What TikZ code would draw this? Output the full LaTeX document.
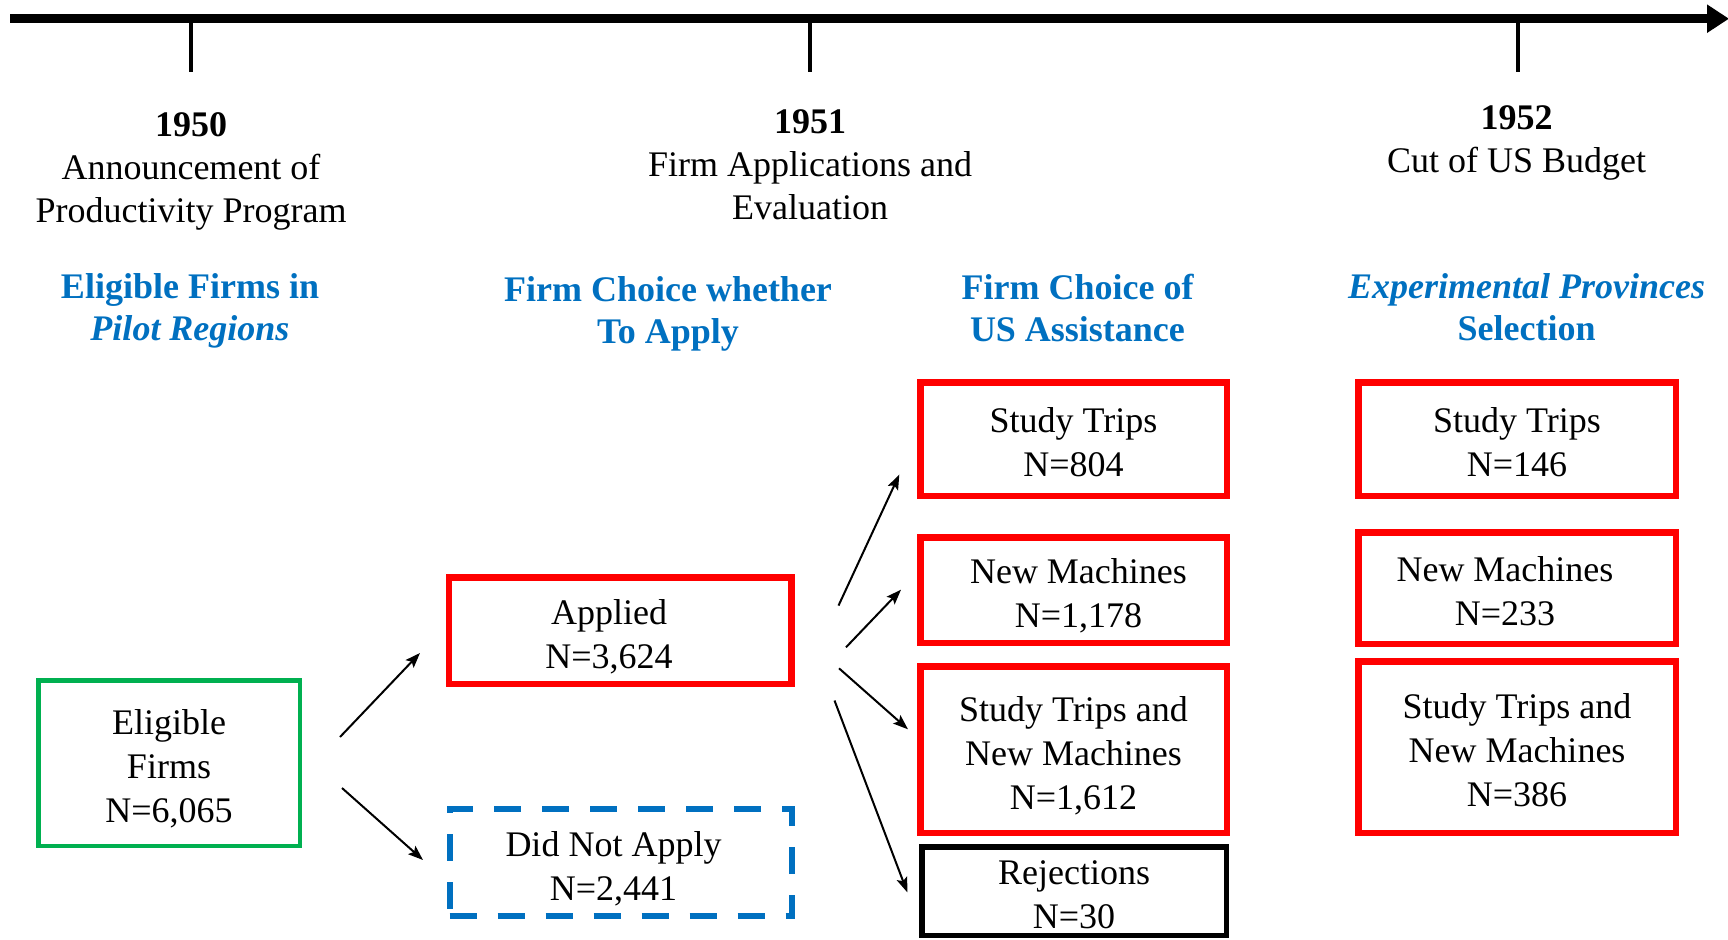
\documentclass[tikz,border=0pt]{standalone}
\usepackage{fontspec}
\setmainfont{Liberation Serif}
\usetikzlibrary{arrows.meta}
\definecolor{fred}{RGB}{255,0,0}
\definecolor{fgreen}{RGB}{0,176,80}
\definecolor{fblue}{RGB}{0,112,192}
\newcommand{\bxt}[2][0]{\hspace*{#1pt}\raisebox{-7pt}[\height][\depth]{\begin{tabular}{@{}c@{}}#2\end{tabular}}}
\newcommand{\hdt}[1]{\begin{tabular}[t]{@{}c@{}}#1\end{tabular}}
\tikzset{
  fbox/.style={draw, inner sep=0pt, font=\fontsize{36}{44}\selectfont},
  redbox/.style={fbox, draw=fred, line width=6.5pt},
  greenbox/.style={fbox, draw=fgreen, line width=4.5pt},
  bluebox/.style={fbox, draw=fblue, line width=6pt, dash pattern=on 27pt off 21pt},
  blackbox/.style={fbox, draw=black, line width=5.5pt},
  hd/.style={inner sep=0pt, anchor=base, font=\fontsize{36}{43}\selectfont},
  bh/.style={inner sep=0pt, anchor=base, text=fblue, font=\fontsize{36}{42}\selectfont\bfseries},
  arr/.style={line width=2pt, -{Stealth[length=15pt,width=11pt,inset=3pt]}},
  tick/.style={line width=4pt},
}
\begin{document}
\begin{tikzpicture}[x=1pt,y=-1pt]
\useasboundingbox (0,0) rectangle (1728,939);
% timeline
\coordinate (tlS) at (10,18.7);
\coordinate (tlE) at (1729,18.7);
\draw[line width=9pt, -{Triangle[length=22pt,width=27pt]}] (tlS) -- (tlE);
\coordinate (t1a) at (191,23);   \coordinate (t1b) at (191,72);
\coordinate (t2a) at (810,23);   \coordinate (t2b) at (810,72);
\coordinate (t3a) at (1518,23);  \coordinate (t3b) at (1518,72);
\draw[tick] (t1a) -- (t1b);
\draw[tick] (t2a) -- (t2b);
\draw[tick] (t3a) -- (t3b);
% year headings
\node[hd] (y1950) at (191,136.7) {\hdt{\textbf{1950}\\Announcement of\\Productivity Program}};
\node[hd] (y1951) at (810,133.3) {\hdt{\textbf{1951}\\Firm Applications and\\Evaluation}};
\node[hd] (y1952) at (1516.5,130) {\hdt{\textbf{1952}\\Cut of US Budget}};
% blue headings
\node[bh] (b1) at (190,298.3) {\hdt{Eligible Firms in\\\textit{Pilot Regions}}};
\node[bh] (b2) at (668,301.7) {\hdt{Firm Choice whether\\To Apply}};
\node[bh] (b3) at (1077.5,299.3) {\hdt{Firm Choice of\\US Assistance}};
\node[bh] (b4) at (1526.5,298.3) {\hdt{\textit{Experimental Provinces}\\Selection}};
% boxes
\node[greenbox, minimum width=261.5pt, minimum height=165.5pt] (elig) at (169,763) {\bxt{Eligible\\Firms\\N=6,065}};
\node[redbox, minimum width=342.5pt, minimum height=106.5pt] (app) at (620,630.5) {\bxt[-22]{Applied\\N=3,624}};
\node[bluebox, minimum width=342pt, minimum height=107pt] (dna) at (620.5,862.5) {\bxt[-14]{Did Not Apply\\N=2,441}};
\node[redbox, minimum width=306.5pt, minimum height=113.5pt] (st1) at (1073.5,439) {\bxt{Study Trips\\N=804}};
\node[redbox, minimum width=306.5pt, minimum height=105.5pt] (nm1) at (1073.5,590) {\bxt[10]{New Machines\\N=1,178}};
\node[redbox, minimum width=306.5pt, minimum height=166.5pt] (sn1) at (1073.5,749.5) {\bxt{Study Trips and\\New Machines\\N=1,612}};
\node[blackbox, minimum width=304.5pt, minimum height=88.5pt] (rej) at (1074,891) {\bxt{Rejections\\N=30}};
\node[redbox, minimum width=317.5pt, minimum height=113.5pt] (st2) at (1517,439) {\bxt{Study Trips\\N=146}};
\node[redbox, minimum width=317.5pt, minimum height=111.5pt] (nm2) at (1517,588) {\bxt[-24]{New Machines\\N=233}};
\node[redbox, minimum width=317.5pt, minimum height=171.5pt] (sn2) at (1517,747) {\bxt{Study Trips and\\New Machines\\N=386}};
% arrow end points
\coordinate (e1s) at (340,737);   \coordinate (e1e) at (420,653);
\coordinate (e2s) at (342,788);   \coordinate (e2e) at (423,860);
\coordinate (a1s) at (838.5,605.6); \coordinate (a1e) at (899.3,474.5);
\coordinate (a2s) at (846,647.3);   \coordinate (a2e) at (901,589.7);
\coordinate (a3s) at (839,668.3);   \coordinate (a3e) at (908,729.3);
\coordinate (a4s) at (834.5,700.5); \coordinate (a4e) at (907.3,892.3);
\draw[arr] (e1s) -- (e1e);
\draw[arr] (e2s) -- (e2e);
\draw[arr] (a1s) -- (a1e);
\draw[arr] (a2s) -- (a2e);
\draw[arr] (a3s) -- (a3e);
\draw[arr] (a4s) -- (a4e);
\end{tikzpicture}
\end{document}
